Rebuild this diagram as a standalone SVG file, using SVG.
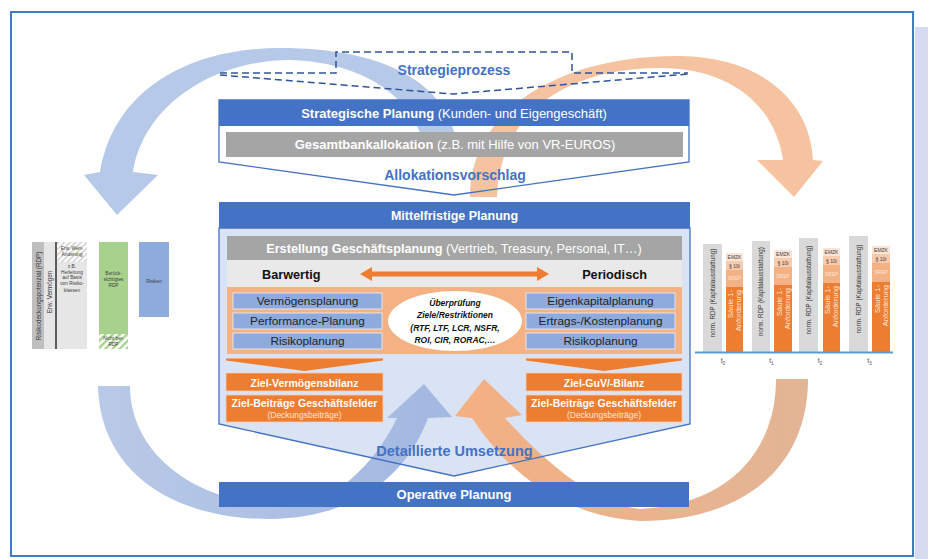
<svg xmlns="http://www.w3.org/2000/svg" width="928" height="559" viewBox="0 0 928 559">
  <style>
    text { font-family: "Liberation Sans", Arial, sans-serif; }
    .b { font-weight: bold; }
    .n { font-weight: normal; }
    .w { fill: #ffffff; }
    .mid { text-anchor: middle; }
    .hl { fill: #4472c4; font-weight: bold; text-anchor: middle; }
    .bar-blue { fill: #4472c4; }
    .bar-gray { fill: #a5a5a5; }
    .box-b { fill: #8faadc; stroke: #eef2fa; stroke-width: 0.8; }
    .box-b-t { fill: #222222; font-size: 11.8px; text-anchor: middle; }
    .box-o { fill: #ed7d31; stroke: #f8cbad; stroke-width: 0.8; }
    .box-o-t { fill: #ffffff; font-size: 10.5px; font-weight: bold; text-anchor: middle; }
    .sub-o { fill: #fbe5d6; font-size: 8.5px; text-anchor: middle; }
    .outline { fill: none; stroke: #4472c4; stroke-width: 1.3; }
    .dash { fill: none; stroke: #2f5597; stroke-width: 1.5; stroke-dasharray: 7 4; }
    .tiny { font-size: 4.8px; fill: #404040; text-anchor: middle; }
    .vt { font-size: 6.3px; fill: #333333; text-anchor: middle; }
    .vt-o { font-size: 7.5px; fill: #fbe5d6; text-anchor: end; }
    .stk { font-size: 5px; fill: #404040; text-anchor: middle; }
    .stk-l { font-size: 5px; fill: #fbe5d6; text-anchor: middle; }
    .tl { font-size: 7px; fill: #595959; text-anchor: middle; }
    .ell-t { font-size: 8.5px; font-weight: bold; font-style: italic; fill: #111111; text-anchor: middle; }
  </style>
  <defs>
    <pattern id="hatchGray" patternUnits="userSpaceOnUse" width="4" height="4" patternTransform="rotate(45)">
      <rect width="4" height="4" fill="#ffffff"/>
      <rect width="1.6" height="4" fill="#cfcfcf"/>
    </pattern>
    <pattern id="hatchGreen" patternUnits="userSpaceOnUse" width="5" height="5" patternTransform="rotate(45)">
      <rect width="5" height="5" fill="#ffffff"/>
      <rect width="2.4" height="5" fill="#a9d18e"/>
    </pattern>
    <linearGradient id="gBlueLow" gradientUnits="userSpaceOnUse" x1="100" y1="400" x2="430" y2="400">
      <stop offset="0" stop-color="#b9c9e7"/>
      <stop offset="1" stop-color="#a3b9e1"/>
    </linearGradient>
    <linearGradient id="gOrangeLow" gradientUnits="userSpaceOnUse" x1="808" y1="400" x2="470" y2="400">
      <stop offset="0" stop-color="#e2b596"/>
      <stop offset="1" stop-color="#f3b083"/>
    </linearGradient>
  </defs>

  <!-- page background, side panel and frame -->
  <rect x="0" y="0" width="928" height="559" fill="#ffffff"/>
  <rect x="915" y="27" width="13" height="532" fill="#d6dcef"/>
  <rect x="11" y="12" width="902" height="544" fill="none" stroke="#3f7cc4" stroke-width="2"/>

  <!-- mid-term planning: panel body (drawn under the cycle arrows) -->
  <g id="mid-panel-body">
    <polygon points="219,228 690,228 690,424 454,476 219,424" fill="#dae3f3"/>
  </g>

  <!-- cycle arrows -->
  <g id="connectors">
    <path id="arrow-strategy-to-rdp" fill="#b7c9e8"
          d="M 425,150 C 415,95 360,62 290,60 C 220,60 145,100 133,172 L 158,175 L 117,215 L 84,175 L 100,172 C 115,85 195,48 280,48 C 380,48 450,80 458,150 Z"/>
    <path id="arrow-strategy-to-capital" fill="#f6c3a1"
          d="M 470,197 C 470,110 560,55 680,56 C 760,57 810,100 813,160 L 823,161 L 794,197 L 757,160 L 783,160 C 775,105 730,68 660,68 C 570,68 500,110 497,197 Z"/>
    <path id="arrow-rdp-to-planning" fill="url(#gBlueLow)"
          d="M 130,386 C 130,450 190,505 290,506 C 330,506 375,465 397,418 L 387,418 L 424,384 L 452,417 L 428,418 C 405,480 350,518 270,519 C 170,519 100,470 98,386 Z"/>
    <path id="arrow-capital-to-planning" fill="url(#gOrangeLow)"
          d="M 776,379 C 776,450 730,505 640,509 C 595,505 545,462 505,418 L 522,415 L 484,379 L 455,416 L 472,418 C 500,460 550,515 640,521 C 740,521 808,470 808,379 Z"/>
  </g>

  <!-- strategy process bracket -->
  <g id="strategieprozess">
    <path class="dash" d="M 220,73 L 336,73 L 336,52 L 572,52 L 572,73 L 688,73"/>
    <path class="dash" d="M 220,75 L 453,94 L 688,74"/>
    <text x="454" y="75" class="hl" font-size="14">Strategieprozess</text>
  </g>

  <!-- strategic planning block -->
  <g id="strategische-planung">
    <polygon class="outline" points="219,100 689,100 689,162 454,195 219,162"/>
    <rect class="bar-blue" x="219" y="100" width="470" height="26"/>
    <text x="454" y="118" class="w mid" font-size="13"><tspan class="b">Strategische Planung</tspan> (Kunden- und Eigengeschäft)</text>
  </g>
  <g id="gesamtbankallokation">
    <rect class="bar-gray" x="226" y="132" width="457" height="25"/>
    <text x="455" y="149" class="w mid" font-size="13"><tspan class="b">Gesamtbankallokation</tspan> (z.B. mit Hilfe von VR-EUROS)</text>
  </g>
  <g id="allokationsvorschlag">
    <text x="455" y="180" class="hl" font-size="14">Allokationsvorschlag</text>
  </g>

  <!-- mid-term planning block -->
  <g id="mittelfristige-planung">
    <polygon class="outline" points="219,228 690,228 690,424 454,476 219,424"/>
    <rect class="bar-blue" x="219" y="202" width="471" height="26"/>
    <text x="454.5" y="220" class="w b mid" font-size="12.5">Mittelfristige Planung</text>
  </g>
  <g id="geschaeftsplanung">
    <rect class="bar-gray" x="227" y="236" width="455" height="24"/>
    <text x="454" y="253" class="w mid" font-size="12.7"><tspan class="b">Erstellung Geschäftsplanung</tspan> (Vertrieb, Treasury, Personal, IT…)</text>
  </g>
  <g id="perspektiven">
    <rect x="227" y="260" width="455" height="27" fill="#e9e9ea"/>
    <text x="262" y="278.5" class="b" font-size="12.7" fill="#111111">Barwertig</text>
    <text x="647" y="278.5" class="b" font-size="12.7" fill="#111111" text-anchor="end">Periodisch</text>
    <polygon fill="#ed7d31" points="360,274 372,267 372,271.5 537,271.5 537,267 549,274 537,281 537,276.5 372,276.5 372,281"/>
  </g>
  <g id="planungsbereiche">
    <rect x="227" y="287" width="455" height="67" fill="#f4b183"/>
  </g>
  <g id="barwertig-planung">
    <rect class="box-b" x="233" y="293" width="149" height="16"/>
    <text class="box-b-t" x="307.5" y="305">Vermögensplanung</text>
    <rect class="box-b" x="233" y="313" width="149" height="16"/>
    <text class="box-b-t" x="307.5" y="325">Performance-Planung</text>
    <rect class="box-b" x="233" y="333" width="149" height="16"/>
    <text class="box-b-t" x="307.5" y="345">Risikoplanung</text>
  </g>
  <g id="periodisch-planung">
    <rect class="box-b" x="526" y="293" width="149" height="16"/>
    <text class="box-b-t" x="600.5" y="305">Eigenkapitalplanung</text>
    <rect class="box-b" x="526" y="313" width="149" height="16"/>
    <text class="box-b-t" x="600.5" y="325">Ertrags-/Kostenplanung</text>
    <rect class="box-b" x="526" y="333" width="149" height="16"/>
    <text class="box-b-t" x="600.5" y="345">Risikoplanung</text>
  </g>
  <g id="ueberpruefung">
    <ellipse cx="455" cy="321" rx="67" ry="30" fill="#ffffff"/>
    <text class="ell-t" x="455" y="306">Überprüfung</text>
    <text class="ell-t" x="455" y="318">Ziele/Restriktionen</text>
    <text class="ell-t" x="455" y="331">(RTF, LTF, LCR, NSFR,</text>
    <text class="ell-t" x="455" y="343">ROI, CIR, RORAC,…</text>
  </g>
  <g id="ziel-barwertig">
    <polygon fill="#ed7d31" points="226,358.5 383,358.5 383,360.5 304.5,371 226,360.5"/>
    <rect class="box-o" x="226" y="373" width="157" height="18"/>
    <text class="box-o-t" x="304.5" y="386.5">Ziel-Vermögensbilanz</text>
    <rect class="box-o" x="226" y="395" width="157" height="27"/>
    <text class="box-o-t" x="304.5" y="406.5">Ziel-Beiträge Geschäftsfelder</text>
    <text class="sub-o" x="304.5" y="418">(Deckungsbeiträge)</text>
  </g>
  <g id="ziel-periodisch">
    <polygon fill="#ed7d31" points="526,358.5 682,358.5 682,360.5 604,371 526,360.5"/>
    <rect class="box-o" x="526" y="373" width="156" height="18"/>
    <text class="box-o-t" x="604" y="386.5">Ziel-GuV/-Bilanz</text>
    <rect class="box-o" x="526" y="395" width="156" height="27"/>
    <text class="box-o-t" x="604" y="406.5">Ziel-Beiträge Geschäftsfelder</text>
    <text class="sub-o" x="604" y="418">(Deckungsbeiträge)</text>
  </g>
  <g id="detaillierte-umsetzung">
    <text x="454.5" y="456" class="hl" font-size="14.5">Detaillierte Umsetzung</text>
  </g>
  <g id="operative-planung">
    <rect class="bar-blue" x="219" y="482" width="470" height="25"/>
    <text x="454" y="498.5" class="w b mid" font-size="13">Operative Planung</text>
  </g>

  <!-- risk-bearing capacity chart (left) -->
  <g id="rdp-chart">
    <rect x="32" y="242" width="12" height="107" fill="#bfbfbf"/>
    <text class="vt" font-size="6.8" fill="#4d4d4d" transform="translate(40.5,296) rotate(-90)">Risikodeckungspotenzial (RDP)</text>
    <rect x="44" y="242" width="11" height="107" fill="#e7e6e6"/>
    <text class="vt" font-size="5.5" fill="#4d4d4d" transform="translate(52,292) rotate(-90)">Erw. Vermögen</text>
    <rect x="57" y="242" width="30" height="107" fill="#e7e6e6"/>
    <rect x="57" y="242" width="30" height="20" fill="url(#hatchGray)"/>
    <line x1="56" y1="242" x2="56" y2="349" stroke="#262626" stroke-width="1.5"/>
    <text class="tiny" x="72" y="249.5">Erw. Wert-</text>
    <text class="tiny" x="72" y="256">Änderung</text>
    <text class="tiny" x="72" y="268">z.B.</text>
    <text class="tiny" x="72" y="273.5">Herleitung</text>
    <text class="tiny" x="72" y="279">auf Basis</text>
    <text class="tiny" x="72" y="284.5">von Risiko-</text>
    <text class="tiny" x="72" y="292" font-size="5.3">klassen</text>
    <rect x="99" y="242" width="29" height="92" fill="#a9d18e"/>
    <rect x="99" y="334" width="29" height="15" fill="url(#hatchGreen)"/>
    <text class="tiny" x="113.5" y="275" font-size="5">Berück-</text>
    <text class="tiny" x="113.5" y="281" font-size="5">sichtigtes</text>
    <text class="tiny" x="113.5" y="287" font-size="5">RDP</text>
    <text class="tiny" x="113.5" y="339.5">Nicht ber.</text>
    <text class="tiny" x="113.5" y="345.5">RDP</text>
    <rect x="139" y="242" width="30" height="75" fill="#8faadc"/>
    <text class="tiny" x="154" y="283" font-size="5">Risiken</text>
  </g>

  <!-- capital adequacy chart (right) -->
  <g id="kapital-chart">
    <g id="kapital-t0">
      <rect x="703" y="244" width="19" height="108" fill="#d9d9d9"/>
      <text class="vt" transform="translate(714.7,293) rotate(-90)">norm. RDP (Kapitalausstattung)</text>
      <rect x="726" y="253" width="17" height="8" fill="#fce4d6"/>
      <rect x="726" y="261" width="17" height="9" fill="#f8cbad"/>
      <rect x="726" y="270" width="17" height="17" fill="#f4b183"/>
      <rect x="726" y="287" width="17" height="65" fill="#ed7d31"/>
      <text class="stk" x="734.5" y="259">EMZK</text>
      <text class="stk" x="734.5" y="267.5">§ 10i</text>
      <text class="stk-l" x="734.5" y="280">SREP</text>
      <text class="vt-o" transform="translate(733,290) rotate(-90)">Säule 1-</text>
      <text class="vt-o" transform="translate(741,290) rotate(-90)">Anforderung</text>
      <text class="tl" x="723" y="363">t<tspan font-size="5" dy="1.5">0</tspan></text>
    </g>
    <g id="kapital-t1">
      <rect x="752" y="241" width="18" height="111" fill="#d9d9d9"/>
      <text class="vt" transform="translate(763.2,291.5) rotate(-90)">norm. RDP (Kapitalausstattung)</text>
      <rect x="774" y="250" width="18" height="8" fill="#fce4d6"/>
      <rect x="774" y="258" width="18" height="9" fill="#f8cbad"/>
      <rect x="774" y="267" width="18" height="18" fill="#f4b183"/>
      <rect x="774" y="285" width="18" height="67" fill="#ed7d31"/>
      <text class="stk" x="783" y="256">EMZK</text>
      <text class="stk" x="783" y="264.5">§ 10i</text>
      <text class="stk-l" x="783" y="277.5">SREP</text>
      <text class="vt-o" transform="translate(781.5,288) rotate(-90)">Säule 1-</text>
      <text class="vt-o" transform="translate(789.5,288) rotate(-90)">Anforderung</text>
      <text class="tl" x="771.5" y="363">t<tspan font-size="5" dy="1.5">1</tspan></text>
    </g>
    <g id="kapital-t2">
      <rect x="799" y="238" width="19" height="114" fill="#d9d9d9"/>
      <text class="vt" transform="translate(810.7,290) rotate(-90)">norm. RDP (Kapitalausstattung)</text>
      <rect x="823" y="248" width="17" height="8" fill="#fce4d6"/>
      <rect x="823" y="256" width="17" height="9" fill="#f8cbad"/>
      <rect x="823" y="265" width="17" height="18" fill="#f4b183"/>
      <rect x="823" y="283" width="17" height="69" fill="#ed7d31"/>
      <text class="stk" x="831.5" y="254">EMZK</text>
      <text class="stk" x="831.5" y="262.5">§ 10i</text>
      <text class="stk-l" x="831.5" y="275.5">SREP</text>
      <text class="vt-o" transform="translate(830,286) rotate(-90)">Säule 1-</text>
      <text class="vt-o" transform="translate(838,286) rotate(-90)">Anforderung</text>
      <text class="tl" x="820" y="363">t<tspan font-size="5" dy="1.5">2</tspan></text>
    </g>
    <g id="kapital-t3">
      <rect x="849" y="236" width="19" height="116" fill="#d9d9d9"/>
      <text class="vt" transform="translate(860.7,289) rotate(-90)">norm. RDP (Kapitalausstattung)</text>
      <rect x="872" y="246" width="18" height="8" fill="#fce4d6"/>
      <rect x="872" y="254" width="18" height="9" fill="#f8cbad"/>
      <rect x="872" y="263" width="18" height="19" fill="#f4b183"/>
      <rect x="872" y="282" width="18" height="70" fill="#ed7d31"/>
      <text class="stk" x="881" y="252">EMZK</text>
      <text class="stk" x="881" y="260.5">§ 10i</text>
      <text class="stk-l" x="881" y="274">SREP</text>
      <text class="vt-o" transform="translate(879.5,285) rotate(-90)">Säule 1-</text>
      <text class="vt-o" transform="translate(887.5,285) rotate(-90)">Anforderung</text>
      <text class="tl" x="869.5" y="363">t<tspan font-size="5" dy="1.5">3</tspan></text>
    </g>
    <line x1="695" y1="352.5" x2="893" y2="352.5" stroke="#5b9bd5" stroke-width="2"/>
  </g>
</svg>
